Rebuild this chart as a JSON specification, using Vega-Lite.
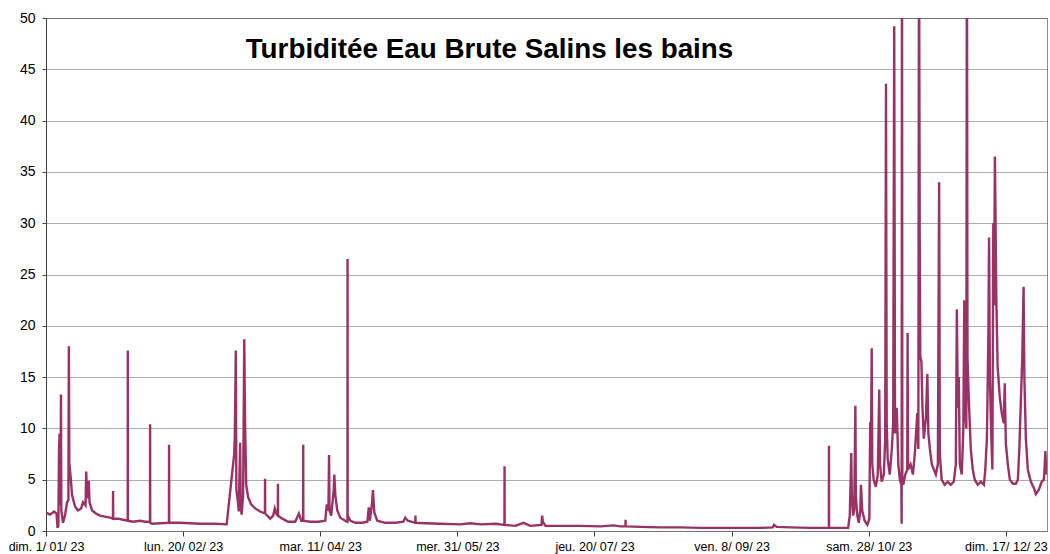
{
  "$schema": "https://vega.github.io/schema/vega-lite/v6.json",
  "width": 1001,
  "height": 513,
  "autosize": {"type": "none"},
  "padding": {"left": 46, "top": 18, "right": 3, "bottom": 23},
  "background": "white",
  "config": {
    "view": {"stroke": "#8c8c8c", "strokeWidth": 1},
    "font": "Liberation Sans"
  },
  "layer": [
    {
      "data": {"values": [
        {"t":"2023-01-01T00:00","v":1.8},{"t":"2023-01-02T11:00","v":1.6},{"t":"2023-01-03T22:00","v":1.9},{"t":"2023-01-04T20:00","v":1.7},
        {"t":"2023-01-05T05:00","v":0.3},{"t":"2023-01-05T12:00","v":0.5},{"t":"2023-01-05T18:00","v":7.8},{"t":"2023-01-05T23:00","v":9.5},
        {"t":"2023-01-06T01:00","v":3.0},{"t":"2023-01-06T07:00","v":2.5},{"t":"2023-01-06T11:00","v":13.3},{"t":"2023-01-06T14:00","v":2.0},
        {"t":"2023-01-07T05:00","v":0.8},{"t":"2023-01-07T22:00","v":1.5},{"t":"2023-01-08T16:00","v":2.8},{"t":"2023-01-09T04:00","v":3.0},
        {"t":"2023-01-09T08:00","v":18.0},{"t":"2023-01-09T12:00","v":6.6},{"t":"2023-01-09T22:00","v":5.5},{"t":"2023-01-10T12:00","v":3.5},
        {"t":"2023-01-11T14:00","v":2.4},{"t":"2023-01-12T16:00","v":2.0},{"t":"2023-01-13T19:00","v":2.2},{"t":"2023-01-14T12:00","v":2.8},
        {"t":"2023-01-15T10:00","v":2.5},{"t":"2023-01-15T16:00","v":5.8},{"t":"2023-01-15T23:00","v":3.2},{"t":"2023-01-16T14:00","v":4.9},
        {"t":"2023-01-16T21:00","v":2.8},{"t":"2023-01-17T19:00","v":2.0},{"t":"2023-01-19T05:00","v":1.7},{"t":"2023-01-20T17:00","v":1.5},
        {"t":"2023-01-22T12:00","v":1.4},{"t":"2023-01-24T09:00","v":1.3},{"t":"2023-01-25T10:00","v":1.2},{"t":"2023-01-25T11:00","v":3.9},
        {"t":"2023-01-25T12:00","v":1.2},{"t":"2023-01-27T07:00","v":1.2},{"t":"2023-01-29T02:00","v":1.1},{"t":"2023-01-30T19:00","v":1.0},
        {"t":"2023-01-30T20:00","v":17.6},{"t":"2023-01-30T21:00","v":1.0},{"t":"2023-02-01T18:00","v":0.9},{"t":"2023-02-04T07:00","v":1.0},
        {"t":"2023-02-06T03:00","v":0.9},{"t":"2023-02-07T22:00","v":0.9},{"t":"2023-02-07T23:00","v":10.4},{"t":"2023-02-08T00:00","v":0.8},
        {"t":"2023-02-08T17:00","v":0.7},{"t":"2023-02-11T15:00","v":0.75},{"t":"2023-02-14T20:00","v":0.8},{"t":"2023-02-14T21:00","v":8.4},
        {"t":"2023-02-14T22:00","v":0.8},{"t":"2023-02-18T22:00","v":0.8},{"t":"2023-02-26T05:00","v":0.7},{"t":"2023-03-03T17:00","v":0.7},
        {"t":"2023-03-07T21:00","v":0.65},{"t":"2023-03-10T14:00","v":7.4},{"t":"2023-03-10T20:00","v":9.0},{"t":"2023-03-11T05:00","v":17.6},
        {"t":"2023-03-11T10:00","v":4.0},{"t":"2023-03-11T22:00","v":3.0},{"t":"2023-03-12T07:00","v":1.9},{"t":"2023-03-12T19:00","v":8.6},
        {"t":"2023-03-13T00:00","v":2.5},{"t":"2023-03-13T08:00","v":1.6},{"t":"2023-03-13T21:00","v":3.5},{"t":"2023-03-14T07:00","v":18.7},
        {"t":"2023-03-14T14:00","v":10.5},{"t":"2023-03-15T00:00","v":4.5},{"t":"2023-03-15T17:00","v":3.3},{"t":"2023-03-16T19:00","v":2.6},
        {"t":"2023-03-18T07:00","v":2.2},{"t":"2023-03-20T02:00","v":1.9},{"t":"2023-03-21T20:00","v":1.7},{"t":"2023-03-21T21:00","v":5.1},
        {"t":"2023-03-21T22:00","v":1.7},{"t":"2023-03-23T18:00","v":1.2},{"t":"2023-03-24T20:00","v":1.5},{"t":"2023-03-25T10:00","v":2.2},
        {"t":"2023-03-26T03:00","v":1.6},{"t":"2023-03-26T13:00","v":1.5},{"t":"2023-03-26T14:00","v":4.6},{"t":"2023-03-26T15:00","v":1.5},
        {"t":"2023-03-28T03:00","v":1.2},{"t":"2023-03-30T08:00","v":0.9},{"t":"2023-04-01T21:00","v":0.9},{"t":"2023-04-03T05:00","v":1.7},
        {"t":"2023-04-04T02:00","v":1.0},{"t":"2023-04-04T18:00","v":1.0},{"t":"2023-04-04T19:00","v":8.4},{"t":"2023-04-04T20:00","v":1.0},
        {"t":"2023-04-07T08:00","v":0.9},{"t":"2023-04-10T07:00","v":0.9},{"t":"2023-04-12T20:00","v":1.0},{"t":"2023-04-13T09:00","v":2.6},
        {"t":"2023-04-14T00:00","v":2.0},{"t":"2023-04-14T05:00","v":7.4},{"t":"2023-04-14T09:00","v":2.0},{"t":"2023-04-15T00:00","v":1.5},
        {"t":"2023-04-15T22:00","v":4.0},{"t":"2023-04-16T03:00","v":5.5},{"t":"2023-04-16T12:00","v":3.5},{"t":"2023-04-17T05:00","v":2.0},
        {"t":"2023-04-18T07:00","v":1.3},{"t":"2023-04-20T03:00","v":1.0},{"t":"2023-04-20T22:00","v":0.9},{"t":"2023-04-20T23:00","v":26.5},
        {"t":"2023-04-21T00:00","v":1.5},{"t":"2023-04-22T00:00","v":1.0},{"t":"2023-04-23T20:00","v":0.8},{"t":"2023-04-26T08:00","v":0.8},
        {"t":"2023-04-28T04:00","v":0.9},{"t":"2023-04-28T17:00","v":2.3},{"t":"2023-04-29T02:00","v":1.0},{"t":"2023-04-29T22:00","v":2.8},
        {"t":"2023-04-30T05:00","v":4.0},{"t":"2023-04-30T17:00","v":1.8},{"t":"2023-05-01T19:00","v":1.0},{"t":"2023-05-04T17:00","v":0.8},
        {"t":"2023-05-08T09:00","v":0.8},{"t":"2023-05-11T07:00","v":0.9},{"t":"2023-05-12T00:00","v":1.3},{"t":"2023-05-12T22:00","v":1.0},
        {"t":"2023-05-15T16:00","v":0.8},{"t":"2023-05-15T17:00","v":1.5},{"t":"2023-05-15T18:00","v":0.8},{"t":"2023-05-19T07:00","v":0.75},
        {"t":"2023-05-24T19:00","v":0.7},{"t":"2023-06-01T02:00","v":0.65},{"t":"2023-06-04T17:00","v":0.75},{"t":"2023-06-08T10:00","v":0.65},
        {"t":"2023-06-13T22:00","v":0.7},{"t":"2023-06-17T04:00","v":0.6},{"t":"2023-06-17T05:00","v":6.3},{"t":"2023-06-17T06:00","v":0.6},
        {"t":"2023-06-21T05:00","v":0.5},{"t":"2023-06-24T02:00","v":0.8},{"t":"2023-06-26T15:00","v":0.5},{"t":"2023-06-30T16:00","v":0.6},
        {"t":"2023-06-30T22:00","v":1.5},{"t":"2023-07-01T04:00","v":0.9},{"t":"2023-07-02T03:00","v":0.5},{"t":"2023-07-07T15:00","v":0.5},
        {"t":"2023-07-14T21:00","v":0.5},{"t":"2023-07-22T04:00","v":0.45},{"t":"2023-07-26T22:00","v":0.55},{"t":"2023-07-29T12:00","v":0.45},
        {"t":"2023-07-31T07:00","v":0.45},{"t":"2023-07-31T08:00","v":1.1},{"t":"2023-07-31T09:00","v":0.45},{"t":"2023-08-05T19:00","v":0.4},
        {"t":"2023-08-13T02:00","v":0.35},{"t":"2023-08-20T09:00","v":0.35},{"t":"2023-08-27T16:00","v":0.3},{"t":"2023-09-03T00:00","v":0.3},
        {"t":"2023-09-11T07:00","v":0.3},{"t":"2023-09-18T14:00","v":0.3},{"t":"2023-09-23T00:00","v":0.35},{"t":"2023-09-23T12:00","v":0.6},
        {"t":"2023-09-24T10:00","v":0.4},{"t":"2023-09-29T12:00","v":0.35},{"t":"2023-10-06T19:00","v":0.3},{"t":"2023-10-13T11:00","v":0.3},
        {"t":"2023-10-13T12:00","v":8.3},{"t":"2023-10-13T13:00","v":0.3},{"t":"2023-10-17T19:00","v":0.3},{"t":"2023-10-20T12:00","v":0.3},
        {"t":"2023-10-21T02:00","v":1.5},{"t":"2023-10-21T10:00","v":5.2},{"t":"2023-10-21T15:00","v":7.6},{"t":"2023-10-21T20:00","v":3.5},
        {"t":"2023-10-22T07:00","v":1.5},{"t":"2023-10-22T17:00","v":2.0},{"t":"2023-10-23T03:00","v":12.2},{"t":"2023-10-23T07:00","v":3.5},
        {"t":"2023-10-23T20:00","v":1.5},{"t":"2023-10-24T09:00","v":0.8},{"t":"2023-10-24T22:00","v":2.0},{"t":"2023-10-25T04:00","v":4.5},
        {"t":"2023-10-25T15:00","v":2.0},{"t":"2023-10-26T12:00","v":1.0},{"t":"2023-10-27T12:00","v":0.6},{"t":"2023-10-28T05:00","v":1.2},
        {"t":"2023-10-28T13:00","v":10.6},{"t":"2023-10-28T20:00","v":9.0},{"t":"2023-10-29T02:00","v":17.8},{"t":"2023-10-29T07:00","v":6.5},
        {"t":"2023-10-29T19:00","v":5.0},{"t":"2023-10-30T14:00","v":4.3},{"t":"2023-10-31T07:00","v":5.5},{"t":"2023-10-31T20:00","v":13.8},
        {"t":"2023-11-01T03:00","v":6.5},{"t":"2023-11-01T17:00","v":4.8},{"t":"2023-11-02T12:00","v":5.5},{"t":"2023-11-03T00:00","v":9.0},
        {"t":"2023-11-03T07:00","v":43.6},{"t":"2023-11-03T13:00","v":10.5},{"t":"2023-11-03T22:00","v":7.0},{"t":"2023-11-04T16:00","v":5.5},
        {"t":"2023-11-05T10:00","v":8.0},{"t":"2023-11-05T22:00","v":10.5},{"t":"2023-11-06T07:00","v":49.2},{"t":"2023-11-06T14:00","v":9.5},
        {"t":"2023-11-07T05:00","v":12.0},{"t":"2023-11-07T19:00","v":6.5},{"t":"2023-11-08T08:00","v":5.0},{"t":"2023-11-08T21:00","v":4.5},
        {"t":"2023-11-09T00:00","v":0.7},{"t":"2023-11-09T03:00","v":62},{"t":"2023-11-09T06:00","v":5.0},{"t":"2023-11-09T14:00","v":4.5},
        {"t":"2023-11-10T08:00","v":5.5},{"t":"2023-11-11T01:00","v":6.0},{"t":"2023-11-11T04:00","v":19.3},{"t":"2023-11-11T08:00","v":6.0},
        {"t":"2023-11-12T06:00","v":6.5},{"t":"2023-11-13T02:00","v":5.5},{"t":"2023-11-13T19:00","v":7.5},{"t":"2023-11-14T17:00","v":11.5},
        {"t":"2023-11-15T02:00","v":8.0},{"t":"2023-11-15T08:00","v":60},{"t":"2023-11-15T14:00","v":28.8},{"t":"2023-11-15T19:00","v":17.0},
        {"t":"2023-11-16T05:00","v":16.5},{"t":"2023-11-16T14:00","v":12.0},{"t":"2023-11-17T02:00","v":9.0},{"t":"2023-11-17T20:00","v":11.0},
        {"t":"2023-11-18T09:00","v":15.3},{"t":"2023-11-18T18:00","v":9.5},{"t":"2023-11-19T07:00","v":8.0},{"t":"2023-11-20T00:00","v":6.5},
        {"t":"2023-11-20T17:00","v":6.0},{"t":"2023-11-21T11:00","v":5.5},{"t":"2023-11-22T05:00","v":6.5},{"t":"2023-11-22T16:00","v":34.0},
        {"t":"2023-11-22T22:00","v":7.5},{"t":"2023-11-23T14:00","v":5.0},{"t":"2023-11-24T16:00","v":4.5},{"t":"2023-11-25T19:00","v":4.8},
        {"t":"2023-11-26T21:00","v":4.5},{"t":"2023-11-28T00:00","v":4.8},{"t":"2023-11-28T18:00","v":6.5},{"t":"2023-11-29T03:00","v":21.6},
        {"t":"2023-11-29T12:00","v":12.0},{"t":"2023-11-29T20:00","v":15.0},{"t":"2023-11-30T05:00","v":6.5},{"t":"2023-11-30T22:00","v":5.5},
        {"t":"2023-12-01T12:00","v":10.0},{"t":"2023-12-01T20:00","v":22.5},{"t":"2023-12-02T03:00","v":12.0},{"t":"2023-12-02T14:00","v":10.0},
        {"t":"2023-12-02T19:00","v":62},{"t":"2023-12-03T00:00","v":17.0},{"t":"2023-12-03T11:00","v":13.0},{"t":"2023-12-04T05:00","v":8.0},
        {"t":"2023-12-04T22:00","v":6.0},{"t":"2023-12-05T16:00","v":5.0},{"t":"2023-12-06T18:00","v":4.5},{"t":"2023-12-07T21:00","v":4.8},
        {"t":"2023-12-09T00:00","v":4.5},{"t":"2023-12-09T12:00","v":6.0},{"t":"2023-12-10T02:00","v":9.0},{"t":"2023-12-10T15:00","v":19.0},
        {"t":"2023-12-10T21:00","v":28.6},{"t":"2023-12-11T04:00","v":15.0},{"t":"2023-12-11T17:00","v":9.0},{"t":"2023-12-12T02:00","v":6.0},
        {"t":"2023-12-12T10:00","v":30.0},{"t":"2023-12-12T17:00","v":22.0},{"t":"2023-12-13T00:00","v":36.5},{"t":"2023-12-13T06:00","v":30.0},
        {"t":"2023-12-13T12:00","v":23.0},{"t":"2023-12-14T00:00","v":16.0},{"t":"2023-12-14T19:00","v":13.0},{"t":"2023-12-15T12:00","v":11.5},
        {"t":"2023-12-16T06:00","v":10.5},{"t":"2023-12-16T14:00","v":14.4},{"t":"2023-12-17T00:00","v":8.5},{"t":"2023-12-17T17:00","v":6.5},
        {"t":"2023-12-18T11:00","v":5.0},{"t":"2023-12-19T14:00","v":4.6},{"t":"2023-12-20T15:00","v":4.6},{"t":"2023-12-21T09:00","v":5.0},
        {"t":"2023-12-21T22:00","v":8.0},{"t":"2023-12-22T12:00","v":13.0},{"t":"2023-12-23T00:00","v":17.0},{"t":"2023-12-23T11:00","v":23.8},
        {"t":"2023-12-23T18:00","v":15.0},{"t":"2023-12-24T07:00","v":9.0},{"t":"2023-12-25T00:00","v":6.0},{"t":"2023-12-26T03:00","v":4.8},
        {"t":"2023-12-27T05:00","v":4.2},{"t":"2023-12-27T22:00","v":3.6},{"t":"2023-12-29T00:00","v":4.0},{"t":"2023-12-30T02:00","v":4.8},
        {"t":"2023-12-30T21:00","v":5.0},{"t":"2023-12-31T10:00","v":7.8},{"t":"2023-12-31T17:00","v":6.0},{"t":"2023-12-31T23:00","v":5.5}
      ]},
      "mark": {"type": "line", "color": "#993366", "strokeWidth": 2.4, "clip": true},
      "encoding": {
        "x": {
          "field": "t", "type": "temporal",
          "scale": {"domain": [{"year": 2023, "month": 1, "date": 1}, {"year": 2024, "month": 1, "date": 1}], "nice": false},
          "axis": {
            "title": null,
            "values": [
              {"year": 2023, "month": 1, "date": 1}, {"year": 2023, "month": 2, "date": 20},
              {"year": 2023, "month": 4, "date": 11}, {"year": 2023, "month": 5, "date": 31},
              {"year": 2023, "month": 7, "date": 20}, {"year": 2023, "month": 9, "date": 8},
              {"year": 2023, "month": 10, "date": 28}, {"year": 2023, "month": 12, "date": 17}
            ],
            "labelExpr": "['dim.','lun.','mar.','mer.','jeu.','ven.','sam.'][day(datum.value)] + ' ' + date(datum.value) + '/ ' + timeFormat(datum.value, '%m') + '/ ' + timeFormat(datum.value, '%y')",
            "labelFont": "Liberation Sans", "labelFontSize": 12.5, "labelColor": "#000000",
            "labelPadding": 4, "labelFlush": false, "labelOverlap": false,
            "tickSize": 5, "tickColor": "#404040", "domain": false, "grid": false
          }
        },
        "y": {
          "field": "v", "type": "quantitative",
          "scale": {"domain": [0, 50], "nice": false},
          "axis": {
            "title": null,
            "values": [0, 5, 10, 15, 20, 25, 30, 35, 40, 45, 50],
            "labelFont": "Liberation Sans", "labelFontSize": 14, "labelColor": "#000000",
            "labelPadding": 7, "tickSize": 4, "tickColor": "#404040",
            "domainColor": "#404040",
            "grid": true, "gridColor": "#5a5a5a", "gridDash": [1, 1], "gridWidth": 1
          }
        }
      }
    },
    {
      "data": {"values": [{"label": "Turbiditée Eau Brute Salins les bains"}]},
      "mark": {"type": "text", "font": "Liberation Sans", "fontSize": 27.8, "fontWeight": "bold", "color": "#000000", "align": "center", "baseline": "middle"},
      "encoding": {
        "x": {"datum": {"year": 2023, "month": 6, "date": 11, "hours": 17}, "type": "temporal"},
        "y": {"datum": 46.9, "type": "quantitative"},
        "text": {"field": "label"}
      }
    }
  ]
}
